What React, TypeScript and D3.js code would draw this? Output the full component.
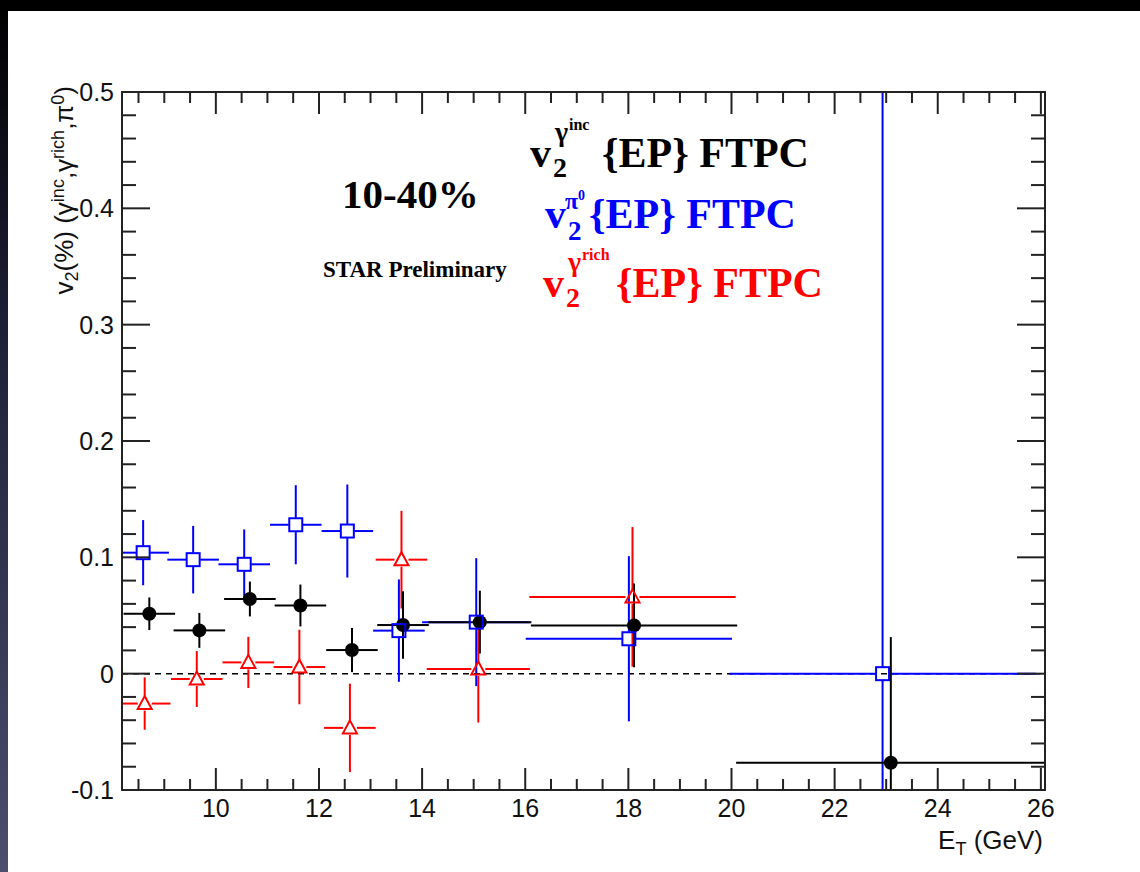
import React from 'react';
import * as d3 from 'd3';

// gamma inclusive (black filled circles)
const incX = [8.71, 9.68, 10.66, 11.64, 12.64, 13.63, 15.12, 18.11, 23.09];
const incY = [0.0515, 0.0372, 0.0642, 0.0586, 0.0203, 0.0418, 0.0443, 0.0415, -0.0766];
const incXErr = [0.5, 0.5, 0.5, 0.5, 0.5, 0.5, 1.0, 2.0, 3.0];
const incYErr = [0.014, 0.015, 0.015, 0.018, 0.019, 0.029, 0.027, 0.036, 0.108];

// pi0 (blue open squares)
const pi0X = [8.59, 9.56, 10.55, 11.55, 12.55, 13.55, 15.05, 18.01, 22.93];
const pi0Y = [0.104, 0.098, 0.094, 0.128, 0.1226, 0.037, 0.0443, 0.030, 0.0];
const pi0XErr = [0.5, 0.5, 0.5, 0.5, 0.5, 0.5, 1.05, 2.0, 2.97];
const pi0YErr = [0.028, 0.029, 0.030, 0.034, 0.040, 0.044, 0.055, 0.071, 0.6];

// gamma rich (red open triangles)
const richX = [8.62, 9.63, 10.63, 11.62, 12.6, 13.6, 15.09, 18.08];
const richY = [-0.0257, -0.0046, 0.0097, 0.0057, -0.0466, 0.098, 0.004, 0.066];
const richXErr = [0.5, 0.5, 0.5, 0.5, 0.5, 0.5, 1.0, 2.0];
const richYErr = [0.0225, 0.024, 0.022, 0.032, 0.038, 0.042, 0.046, 0.060];

const xTicks = [10, 12, 14, 16, 18, 20, 22, 24, 26];
const yTicks = [-0.1, 0, 0.1, 0.2, 0.3, 0.4, 0.5];
const yTickLabels = ['-0.1', '0', '0.1', '0.2', '0.3', '0.4', '0.5'];

const W = 1140;
const H = 872;
const left = 122, right = 1045, top = 92, bottom = 790;

const x = d3.scaleLinear().domain([8.18, 26.08]).range([left, right]);
const y = d3.scaleLinear().domain([-0.1, 0.5]).range([bottom, top]);

const sans = 'Liberation Sans, Arial, sans-serif';
const serif = 'Liberation Serif, Times New Roman, serif';

type Pt = { x: number; y: number; ex: number; ey: number };
const zip = (xs: number[], ys: number[], exs: number[], eys: number[]): Pt[] =>
  xs.map((v, i) => ({ x: v, y: ys[i], ex: exs[i], ey: eys[i] }));

const ErrBars = ({ pts, color, gap }: { pts: Pt[]; color: string; gap: number }) => (
  <g stroke={color} strokeWidth={2} fill="none">
    {pts.map((d, i) => {
      const cx = x(d.x), cy = y(d.y);
      return (
        <g key={i}>
          <line x1={x(d.x - d.ex)} x2={cx - gap} y1={cy} y2={cy} />
          <line x1={cx + gap} x2={x(d.x + d.ex)} y1={cy} y2={cy} />
          <line x1={cx} x2={cx} y1={y(d.y + d.ey)} y2={cy - gap} />
          <line x1={cx} x2={cx} y1={cy + gap} y2={y(d.y - d.ey)} />
        </g>
      );
    })}
  </g>
);

export default function App() {
  const inc = zip(incX, incY, incXErr, incYErr);
  const pi0 = zip(pi0X, pi0Y, pi0XErr, pi0YErr);
  const rich = zip(richX, richY, richXErr, richYErr);

  const xMinor = d3.range(8.5, 26.01, 0.5).filter(v => Math.abs(v / 2 - Math.round(v / 2)) > 1e-6);
  const yMinor = d3.range(-0.1, 0.501, 0.02).filter(v => Math.abs(v * 10 - Math.round(v * 10)) > 1e-6);

  return (
    <svg width={W} height={H} style={{ position: 'absolute', left: 0, top: 0, display: 'block' }}>
      <defs>
        <linearGradient id="strip" x1="0" y1="0" x2="0" y2="1">
          <stop offset="0" stopColor="#000" />
          <stop offset="0.35" stopColor="#1c1e33" />
          <stop offset="1" stopColor="#4b4e6d" />
        </linearGradient>
        <clipPath id="plot">
          <rect x={left} y={top} width={right - left} height={bottom - top} />
        </clipPath>
      </defs>
      <rect width={W} height={H} fill="#fff" />
      <rect x={0} y={0} width={8} height={H} fill="url(#strip)" />
      <rect x={0} y={0} width={W} height={11} fill="#000" />

      {/* zero line */}
      <line x1={left} x2={right} y1={y(0)} y2={y(0)} stroke="#000" strokeWidth={1.5} strokeDasharray="6,5" />

      <g clipPath="url(#plot)">
        <ErrBars pts={pi0} color="#0000ff" gap={7} />
        <ErrBars pts={rich} color="#ff0000" gap={7} />
        <ErrBars pts={inc} color="#000" gap={0} />
        {inc.map((d, i) => (
          <circle key={i} cx={x(d.x)} cy={y(d.y)} r={7} fill="#000" />
        ))}
        {pi0.map((d, i) => (
          <rect key={i} x={x(d.x) - 6.5} y={y(d.y) - 6.5} width={13} height={13} fill="none" stroke="#0000ff" strokeWidth={2} />
        ))}
        {rich.map((d, i) => {
          const cx = x(d.x), cy = y(d.y);
          return (
            <polygon key={i} points={`${cx},${cy - 7.5} ${cx + 7},${cy + 5.5} ${cx - 7},${cy + 5.5}`} fill="none" stroke="#ff0000" strokeWidth={2} />
          );
        })}
      </g>

      {/* frame and ticks */}
      <rect x={left} y={top} width={right - left} height={bottom - top} fill="none" stroke="#222" strokeWidth={2} />
      <g stroke="#222" strokeWidth={2}>
        {xTicks.map(t => (
          <g key={'xt' + t}>
            <line x1={x(t)} x2={x(t)} y1={bottom} y2={bottom - 22} />
            <line x1={x(t)} x2={x(t)} y1={top} y2={top + 22} />
          </g>
        ))}
        {xMinor.map(t => (
          <g key={'xm' + t}>
            <line x1={x(t)} x2={x(t)} y1={bottom} y2={bottom - 11} />
            <line x1={x(t)} x2={x(t)} y1={top} y2={top + 11} />
          </g>
        ))}
        {yTicks.map(t => (
          <g key={'yt' + t}>
            <line x1={left} x2={left + 28} y1={y(t)} y2={y(t)} />
            <line x1={right} x2={right - 28} y1={y(t)} y2={y(t)} />
          </g>
        ))}
        {yMinor.map(t => (
          <g key={'ym' + t}>
            <line x1={left} x2={left + 14} y1={y(t)} y2={y(t)} />
            <line x1={right} x2={right - 14} y1={y(t)} y2={y(t)} />
          </g>
        ))}
      </g>

      {/* tick labels */}
      <g fontFamily={sans} fontSize={25} fill="#111">
        {xTicks.map(t => (
          <text key={t} x={x(t)} y={817} textAnchor="middle">{t}</text>
        ))}
        {yTicks.map((t, i) => (
          <text key={t} x={114} y={y(t)} dy="0.36em" textAnchor="end">{yTickLabels[i]}</text>
        ))}
      </g>

      {/* axis titles */}
      <text x={1043} y={849} textAnchor="end" fontFamily={sans} fontSize={26} fill="#111">
        E<tspan fontSize={18} dy={6}>T</tspan><tspan dy={-6}> (GeV)</tspan>
      </text>
      <text transform="translate(73,86) rotate(-90)" textAnchor="end" fontFamily={sans} fontSize={26} fill="#111">
        v<tspan fontSize={18} dy={5}>2</tspan><tspan dy={-5}>(%) (γ</tspan>
        <tspan fontSize={18} dy={-9}>inc</tspan><tspan dy={9}>,γ</tspan>
        <tspan fontSize={18} dy={-9}>rich</tspan><tspan dy={9}>,π</tspan>
        <tspan fontSize={18} dy={-9}>0</tspan><tspan dy={9}>)</tspan>
      </text>

      {/* annotations */}
      <g fontFamily={serif} fontWeight="bold">
        <text x={342} y={208} fontSize={41} fill="#000">10-40%</text>
        <text x={323} y={277} fontSize={23} fill="#000">STAR Preliminary</text>

        <g fill="#000">
          <text x={530} y={167} fontSize={42}>v</text>
          <text x={553} y={177} fontSize={28}>2</text>
          <text x={555} y={141} fontSize={28}>γ</text>
          <text x={569} y={130} fontSize={16}>inc</text>
          <text x={602} y={167} fontSize={42}>{'{EP} FTPC'}</text>
        </g>
        <g fill="#0000ff">
          <text x={545} y={228} fontSize={42}>v</text>
          <text x={568} y={240} fontSize={27}>2</text>
          <text x={565} y={209} fontSize={24}>π</text>
          <text x={578} y={200} fontSize={14}>0</text>
          <text x={589} y={228} fontSize={42}>{'{EP} FTPC'}</text>
        </g>
        <g fill="#ff0000">
          <text x={543} y={297} fontSize={42}>v</text>
          <text x={566} y={307} fontSize={28}>2</text>
          <text x={568} y={271} fontSize={28}>γ</text>
          <text x={582} y={260} fontSize={16}>rich</text>
          <text x={616} y={297} fontSize={42}>{'{EP} FTPC'}</text>
        </g>
      </g>
    </svg>
  );
}
